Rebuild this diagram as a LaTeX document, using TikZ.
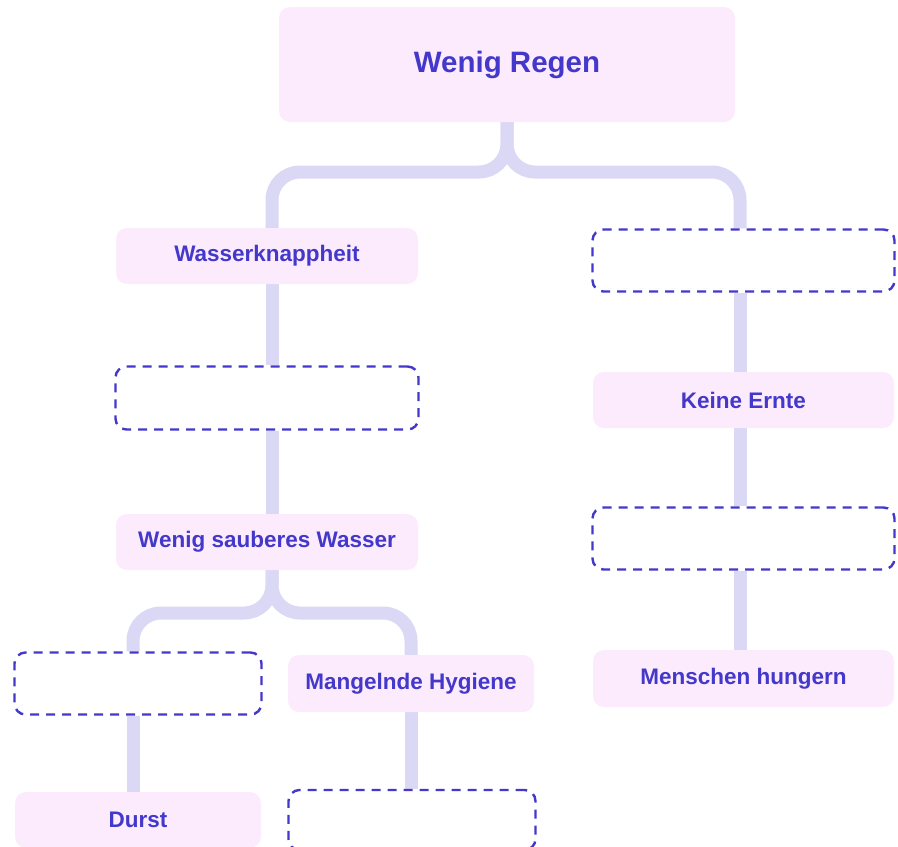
\documentclass[tikz,border=0pt]{standalone}
\usepackage{fontspec}
\setmainfont{Liberation Sans}
\usetikzlibrary{backgrounds}
\definecolor{pinkfill}{HTML}{FCEBFC}
\definecolor{indigo}{HTML}{4338CA}
\definecolor{connc}{HTML}{DAD8F4}
\tikzset{
  solidbox/.style={rectangle, rounded corners=11pt, fill=pinkfill, draw=none, text=indigo, font=\bfseries\fontsize{22.5}{26}\selectfont, inner sep=0pt},
  dashbox/.style={rectangle, rounded corners=11pt, fill=white, draw=indigo, line width=2.4pt, dash pattern=on 9pt off 7pt, inner sep=0pt},
  conn/.style={draw=connc, line width=13pt, rounded corners=28pt}
}
\begin{document}
\begin{tikzpicture}[x=1pt, y=-1pt]
\useasboundingbox (0,0) rectangle (898,847);
% nodes
\node[solidbox, minimum width=456pt, minimum height=115pt, font=\bfseries\fontsize{29.5}{34}\selectfont] (top) at (507,64.5) {Wenig Regen};
\node[solidbox, minimum width=302pt, minimum height=56pt] (wass) at (267,256) {Wasserknappheit};
\node[dashbox, minimum width=303pt, minimum height=63pt] (d1) at (267,398) {};
\node[solidbox, minimum width=302pt, minimum height=56pt] (wsw) at (267,542) {Wenig sauberes Wasser};
\node[dashbox, minimum width=247pt, minimum height=62pt] (d2) at (138,683.5) {};
\node[solidbox, minimum width=246pt, minimum height=57pt] (mh) at (411,683.5) {Mangelnde Hygiene};
\node[solidbox, minimum width=246pt, minimum height=56pt] (durst) at (138,820) {Durst};
\node[dashbox, minimum width=247pt, minimum height=60pt] (d3) at (412,820) {};
\node[dashbox, minimum width=302pt, minimum height=62pt] (rd1) at (743.5,260.5) {};
\node[solidbox, minimum width=301pt, minimum height=56pt] (ke) at (743.5,400) {Keine Ernte};
\node[dashbox, minimum width=302pt, minimum height=62pt] (rd2) at (743.5,538.5) {};
\node[solidbox, minimum width=301pt, minimum height=57pt] (mhung) at (743.5,678.5) {Menschen hungern};
% guide coordinates
\coordinate (lx) at (272,0);
\coordinate (rx) at (740,0);
\coordinate (bl) at (133,0);
\coordinate (br) at (411,0);
\coordinate (j1) at (0,172);
\coordinate (j2) at (0,613);
\begin{scope}[on background layer]
\draw[conn] (top.south) -- (top.south |- j1) -- (j1 -| lx) -- (wass.north -| lx);
\draw[conn] (top.south) -- (top.south |- j1) -- (j1 -| rx) -- (rd1.north -| rx);
\draw[conn] (wass.south -| lx) -- (d1.north -| lx);
\draw[conn] (d1.south -| lx) -- (wsw.north -| lx);
\draw[conn] (wsw.south -| lx) -- (lx |- j2) -- (j2 -| bl) -- (d2.north -| bl);
\draw[conn] (wsw.south -| lx) -- (lx |- j2) -- (j2 -| br) -- (mh.north -| br);
\draw[conn] (d2.south -| bl) -- (durst.north -| bl);
\draw[conn] (mh.south -| br) -- (d3.north -| br);
\draw[conn] (rd1.south -| rx) -- (ke.north -| rx);
\draw[conn] (ke.south -| rx) -- (rd2.north -| rx);
\draw[conn] (rd2.south -| rx) -- (mhung.north -| rx);
\end{scope}
\end{tikzpicture}
\end{document}
